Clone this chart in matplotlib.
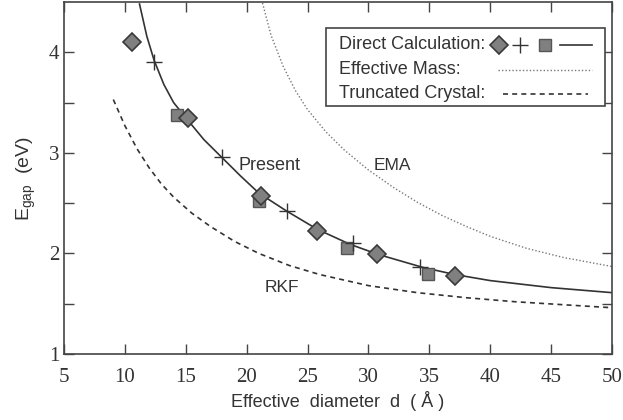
import matplotlib
matplotlib.use("Agg")
import matplotlib.pyplot as plt
from matplotlib.patches import Rectangle

plt.rcParams["mathtext.fontset"] = "custom"
plt.rcParams["mathtext.rm"] = "Liberation Sans"

# direct calculation points
diamond_d = [10.6, 15.2, 21.2, 25.8, 30.7, 37.1]
diamond_e = [4.10, 3.35, 2.57, 2.22, 1.99, 1.78]
plus_d = [12.4, 18.0, 23.3, 28.7, 34.2]
plus_e = [3.90, 2.96, 2.42, 2.10, 1.87]
square_d = [14.3, 21.0, 28.2, 34.9]
square_e = [3.38, 2.52, 2.05, 1.80]

# curves traced by eye
present_d = [11.2, 11.8, 12.4, 13.2, 14.0, 15.2, 16.5, 18.0, 19.5, 21.0, 23.3,
             25.8, 28.5, 30.8, 34.5, 37.1, 40.0, 45.0, 50.0]
present_e = [4.48, 4.16, 3.92, 3.68, 3.50, 3.32, 3.13, 2.95, 2.77, 2.60, 2.42,
             2.24, 2.09, 1.99, 1.86, 1.79, 1.73, 1.66, 1.61]
ema_d = [21.3, 22.0, 23.0, 24.0, 25.0, 26.5, 28.0, 30.0, 32.0, 34.0, 36.0,
         38.0, 40.0, 43.0, 46.0, 50.0]
ema_e = [4.49, 4.17, 3.86, 3.62, 3.43, 3.21, 3.03, 2.83, 2.66, 2.51, 2.38,
         2.27, 2.17, 2.05, 1.96, 1.87]
rkf_d = [9.05, 10.0, 11.0, 12.0, 13.0, 14.0, 15.5, 17.0, 19.0, 21.0, 23.5,
         26.0, 30.0, 34.0, 38.0, 42.0, 46.0, 50.0]
rkf_e = [3.53, 3.27, 3.04, 2.85, 2.69, 2.56, 2.40, 2.27, 2.12, 2.00, 1.88,
         1.79, 1.68, 1.61, 1.56, 1.52, 1.49, 1.46]

xticks = [5, 10, 15, 20, 25, 30, 35, 40, 45, 50]
yticks = [1, 2, 3, 4]
ytick_minor = [1.5, 2.5, 3.5]

line_col = "#333333"
fill_col = "#808080"
sans = "Liberation Sans"
serif = "Liberation Serif"

fig = plt.figure(figsize=(6.23, 4.2), dpi=100)
ax = fig.add_axes([64 / 623, 1 - 354 / 420, 548 / 623, 352 / 420])

ax.plot(present_d, present_e, color=line_col, lw=1.2)
ax.plot(ema_d, ema_e, color="#777777", lw=1.0, linestyle=(0, (1, 1.5)))
ax.plot(rkf_d, rkf_e, color=line_col, lw=1.2, linestyle=(0, (3, 2.5)))

ax.plot(square_d, square_e, "s", ms=8.5, mfc=fill_col, mec="#555555", mew=1.0)
ax.plot(diamond_d, diamond_e, "D", ms=9, mfc=fill_col, mec="#3a3a3a", mew=1.2)
ax.plot(plus_d, plus_e, "+", ms=11, color=line_col, mew=1.0)

ax.text(19.3, 2.87, "Present", fontsize=13, family=sans, color="#333333", va="center")
ax.text(30.4, 2.87, "EMA", fontsize=12.5, family=sans, color="#333333", va="center")
ax.text(21.5, 1.66, "RKF", fontsize=12.5, family=sans, color="#333333", va="center")

ax.set_xlim(5, 50)
ax.set_ylim(1, 4.5)
ax.set_xticks(xticks, [str(v) for v in xticks], family=serif)
ax.set_yticks(yticks, [str(v) for v in yticks], family=serif)
ax.set_yticks(ytick_minor, minor=True)
ax.tick_params(which="both", direction="in", top=True, right=True, length=7,
               width=1.0, color="#444444", labelsize=15, labelcolor="#333333")
ax.tick_params(axis="x", pad=10)
for s in ax.spines.values():
    s.set_color("#444444")
    s.set_linewidth(1.2)

ax.set_xlabel("Effective  diameter  d  ( Å )", fontsize=13, family=sans,
              color="#333333", labelpad=3)
ax.set_ylabel(r"E$_{\rm gap}$  (eV)", fontsize=14, family=sans,
              color="#333333", labelpad=8)

# legend box drawn by hand so text is left aligned and keys sit on the right
tr = ax.transAxes
ax.add_patch(Rectangle((0.479, 0.705), 0.508, 0.22, transform=tr, fill=True,
                       fc="white", ec="#444444", lw=1.2, zorder=5))
rows = [0.878, 0.807, 0.739]
labels = ["Direct Calculation:", "Effective Mass:", "Truncated Crystal:"]
for y, lab in zip(rows, labels):
    ax.text(0.502, y, lab, transform=tr, fontsize=13, family=sans,
            color="#333333", va="center", zorder=6)
ax.plot([0.794], [rows[0]], "D", ms=9, mfc=fill_col, mec="#3a3a3a", mew=1.2,
        transform=tr, zorder=6, clip_on=False)
ax.plot([0.833], [rows[0]], "+", ms=11, color=line_col, mew=1.0, transform=tr, zorder=6)
ax.plot([0.878], [rows[0]], "s", ms=8.5, mfc=fill_col, mec="#555555", transform=tr, zorder=6)
ax.plot([0.905, 0.964], [rows[0]] * 2, color=line_col, lw=1.2, transform=tr, zorder=6)
ax.plot([0.792, 0.964], [rows[1]] * 2, color="#777777", lw=1.0,
        linestyle=(0, (1, 1.5)), transform=tr, zorder=6)
ax.plot([0.801, 0.956], [rows[2]] * 2, color=line_col, lw=1.2,
        linestyle=(0, (3, 2.5)), transform=tr, zorder=6)

fig.savefig("out.png", dpi=100)
